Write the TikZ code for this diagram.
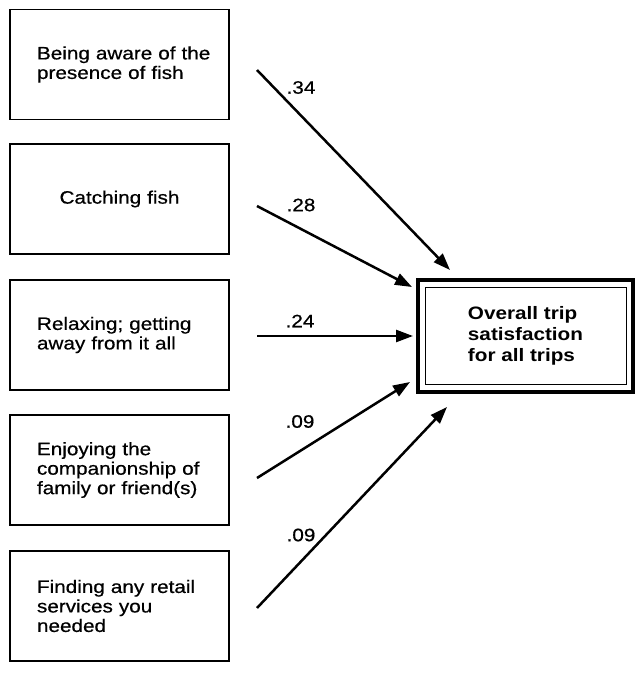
\documentclass[tikz,border=0pt]{standalone}
\usepackage{fontspec}
\setmainfont{Liberation Sans}[FakeStretch=1.15, UprightFeatures={FakeBold=0.6}]
\usetikzlibrary{arrows.meta}
\begin{document}
\begin{tikzpicture}[x=1pt,y=-1pt,
  srcbox/.style={draw, line width=1.7pt, minimum height=110pt, text width=165pt, inner xsep=27pt, inner ysep=0pt, align=left, font=\fontsize{18}{19.5}\selectfont},
  srcboxc/.style={srcbox, align=center},
  tgtbox/.style={draw, line width=3.2pt, minimum width=215pt, minimum height=112pt, align=left, font=\bfseries\fontsize{18}{21}\selectfont},
  coef/.style={font=\fontsize{18}{19}\selectfont, inner sep=0pt},
  path arrow/.style={line width=2.5pt, -{Triangle[length=17pt,width=12pt]}}
]
\useasboundingbox (0,0) rectangle (635,683);
\fill[white] (0,0) rectangle (635,683);

\node[srcbox]  (b1) at (119.5,64.5) {\mbox{Being aware of the}\\\mbox{presence of fish}};
\node[srcboxc] (b2) at (119.5,199) {Catching fish};
\node[srcbox]  (b3) at (119.5,335) {\mbox{Relaxing; getting}\\\mbox{away from it all}};
\node[srcbox]  (b4) at (119.5,470) {\mbox{Enjoying the}\\\mbox{companionship of}\\\mbox{family or friend(s)}};
\node[srcbox]  (b5) at (119.5,606) {\mbox{Finding any retail}\\\mbox{services you}\\\mbox{needed}};

\node[tgtbox] (t) at (525.5,336) {Overall trip\\satisfaction\\for all trips};
\draw[line width=1.6pt] ([shift={(9,9)}]t.north west) rectangle ([shift={(-8,-9)}]t.south east);

\coordinate (s1) at (257,70);  \coordinate (e1) at (450,270);
\coordinate (s2) at (257,206); \coordinate (e2) at (412,287);
\coordinate (s3) at (257,336); \coordinate (e3) at (413,336);
\coordinate (s4) at (257,478); \coordinate (e4) at (410,382);
\coordinate (s5) at (257,608); \coordinate (e5) at (447,407);

\draw[path arrow] (s1) -- (e1);
\draw[path arrow] (s2) -- (e2);
\draw[path arrow] (s3) -- (e3);
\draw[path arrow] (s4) -- (e4);
\draw[path arrow] (s5) -- (e5);

\node[coef] (l1) at (301,87.5) {.34};
\node[coef] (l2) at (301,205) {.28};
\node[coef] (l3) at (300,321) {.24};
\node[coef] (l4) at (300,421.5) {.09};
\node[coef] (l5) at (301,535) {.09};
\end{tikzpicture}
\end{document}
